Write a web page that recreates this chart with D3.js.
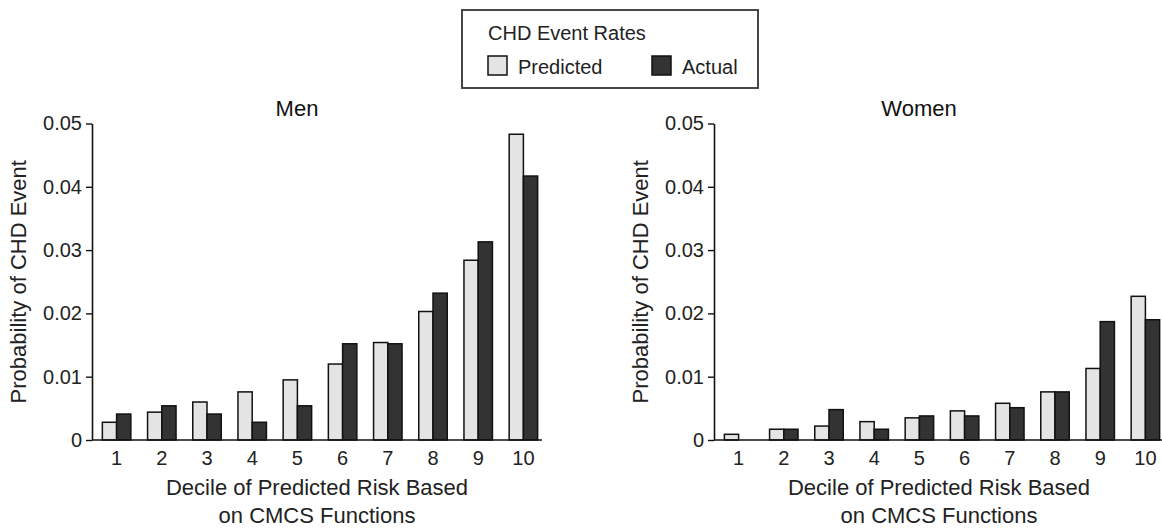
<!DOCTYPE html>
<html>
<head>
<meta charset="utf-8">
<script src="https://cdn.jsdelivr.net/npm/d3@7"></script>
<style>
    html, body { margin: 0; padding: 0; background: #fff; }
    svg { display: block; font-family: 'Liberation Sans', Arial, Helvetica, sans-serif; }
    .tick text { fill: #222; }
</style>
</head>
<body>
<svg id="chart" width="1162" height="529"></svg>
<script>
// Data //
const deciles = ['1', '2', '3', '4', '5', '6', '7', '8', '9', '10']
const menPredicted = [0.0028, 0.0044, 0.0060, 0.0076, 0.0095, 0.0120, 0.0154, 0.0203, 0.0284, 0.0483]
const menActual = [0.0041, 0.0054, 0.0041, 0.0028, 0.0054, 0.0152, 0.0152, 0.0232, 0.0313, 0.0417]
const womenPredicted = [0.0009, 0.0017, 0.0022, 0.0029, 0.0035, 0.0046, 0.0058, 0.0076, 0.0113, 0.0227]
const womenActual = [0, 0.0017, 0.0048, 0.0017, 0.0038, 0.0038, 0.0051, 0.0076, 0.0187, 0.0190]
const yTicks = [0, 0.01, 0.02, 0.03, 0.04, 0.05]
const yTickLabels = ['0', '0.01', '0.02', '0.03', '0.04', '0.05']
const seriesNames = ['Predicted', 'Actual']

const colors = { Predicted: '#e4e4e4', Actual: '#333333' }

const svg = d3.select('#chart')

// Scales //
const y = d3.scaleLinear().domain([0, 0.05]).range([440, 123.5])

const makeX = (x0) => d3.scaleBand()
    .domain(deciles)
    .range([x0 + 2, x0 + 454])
    .paddingInner(0.37)
    .paddingOuter(0.185)

// Drawers //
const drawPanel = (title, predicted, actual, x0, x1) => {
    const x = makeX(x0)
    const sub = d3.scaleBand().domain(seriesNames).range([0, x.bandwidth()])
    const rows = deciles.map((d, i) => ({ decile: d, Predicted: predicted[i], Actual: actual[i] }))

    const g = svg.append('g')

    // bars
    g.selectAll('.group')
        .data(rows)
        .enter()
        .append('g')
            .attr('transform', d => `translate(${x(d.decile)},0)`)
        .selectAll('rect')
        .data(d => seriesNames.map(k => ({ key: k, value: d[k] })))
        .enter()
        .append('rect')
            .attr('x', d => sub(d.key))
            .attr('y', d => y(d.value))
            .attr('width', sub.bandwidth())
            .attr('height', d => y(0) - y(d.value))
            .attr('fill', d => colors[d.key])
            .attr('stroke', '#111')
            .attr('stroke-width', 1.5)
            .attr('display', d => d.value > 0 ? null : 'none')

    // x axis
    const xAxis = g.append('g')
        .attr('transform', `translate(0,${y(0)})`)
        .call(d3.axisBottom(x).tickSize(0).tickPadding(11))
    xAxis.select('.domain').remove()
    xAxis.selectAll('text').attr('font-size', 20).attr('font-family', null)

    g.append('line')
        .attr('x1', x0).attr('x2', x1)
        .attr('y1', y(0)).attr('y2', y(0))
        .attr('stroke', '#111')
        .attr('stroke-width', 1.6)

    // y axis
    const yAxis = g.append('g')
        .attr('transform', `translate(${x0},0)`)
        .call(d3.axisLeft(y)
            .tickValues(yTicks)
            .tickFormat((d, i) => yTickLabels[i])
            .tickSize(6)
            .tickSizeOuter(0)
            .tickPadding(4))
    yAxis.select('.domain').attr('stroke', '#111').attr('stroke-width', 1.6)
    yAxis.selectAll('.tick line').attr('stroke', '#111').attr('stroke-width', 1.4)
    yAxis.selectAll('text').attr('font-size', 20).attr('font-family', null)

    // titles
    g.append('text')
        .attr('x', x0 + 205)
        .attr('y', 116)
        .attr('text-anchor', 'middle')
        .attr('font-size', 22)
        .attr('fill', '#111')
        .text(title)

    g.append('text')
        .attr('transform', `translate(${x0 - 66},${(y(0) + y(0.05)) / 2}) rotate(-90)`)
        .attr('text-anchor', 'middle')
        .attr('font-size', 22)
        .attr('fill', '#222')
        .text('Probability of CHD Event')

    const xMid = x0 + 225
    g.append('text')
        .attr('x', xMid).attr('y', 495)
        .attr('text-anchor', 'middle')
        .attr('font-size', 22)
        .attr('fill', '#222')
        .text('Decile of Predicted Risk Based')
    g.append('text')
        .attr('x', xMid).attr('y', 523)
        .attr('text-anchor', 'middle')
        .attr('font-size', 22)
        .attr('fill', '#222')
        .text('on CMCS Functions')
}

const drawLegend = () => {
    const g = svg.append('g')

    g.append('rect')
        .attr('x', 462).attr('y', 10)
        .attr('width', 296).attr('height', 78)
        .attr('fill', '#fff')
        .attr('stroke', '#333')
        .attr('stroke-width', 1.8)

    g.append('text')
        .attr('x', 488).attr('y', 40)
        .attr('font-size', 20)
        .attr('fill', '#222')
        .text('CHD Event Rates')

    const items = g.selectAll('.item')
        .data(seriesNames)
        .enter()
        .append('g')
            .attr('transform', (d, i) => `translate(${i ? 652 : 488},56)`)

    items.append('rect')
        .attr('width', 19).attr('height', 19)
        .attr('fill', d => colors[d])
        .attr('stroke', '#111')
        .attr('stroke-width', 1.5)

    items.append('text')
        .attr('x', 30).attr('y', 18)
        .attr('font-size', 20)
        .attr('fill', '#222')
        .text(d => d)
}

// Initializer //
drawPanel('Men', menPredicted, menActual, 92, 542)
drawPanel('Women', womenPredicted, womenActual, 714, 1166)
drawLegend()
</script>
</body>
</html>
